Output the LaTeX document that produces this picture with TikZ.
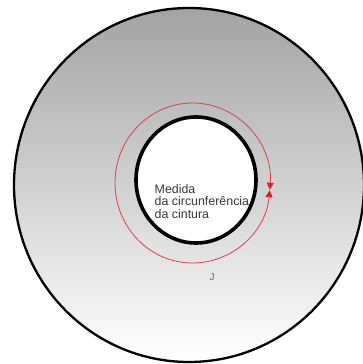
\documentclass[tikz,border=0pt]{standalone}
\usepackage{fontspec}
\setmainfont{Liberation Sans}
\usepackage{tikz}
\usetikzlibrary{arrows.meta}
\definecolor{ringred}{RGB}{222,62,74}
\definecolor{tipred}{RGB}{232,28,40}
\definecolor{labelgray}{RGB}{55,55,55}

\begin{document}
\begin{tikzpicture}[x=1pt,y=1pt]
  \useasboundingbox (0,0) rectangle (363,364);

  % Outer disc with gradient
  \shade[top color=black!36, bottom color=white]
    (189,179) ellipse[x radius=175, y radius=177];
  \draw[black, line width=2.3pt] (189,179) ellipse[x radius=175, y radius=177];

  % Waist opening
  \fill[white] (196,184) ellipse[x radius=60, y radius=63];
  \draw[black, line width=3.6pt] (196,184) ellipse[x radius=60, y radius=63];

  % Measuring loop
  \draw[ringred, line width=0.8pt,
        {Triangle[length=7pt,width=7pt,color=tipred]}-{Triangle[length=7pt,width=7pt,color=tipred]}]
    (192.5,181) ++(-4.85:77.5 and 80)
    arc[start angle=-4.85, end angle=354.85, x radius=77.5, y radius=80];

  % Labels
  \node[font=\fontsize{12.4}{12.6}\selectfont, text=labelgray, align=left,
        anchor=north west, inner sep=0pt] (waist) at (154.5,180)
    {Medida\\da circunferência\\da cintura};
  \node[font=\fontsize{10}{10}\selectfont, text=black!60, inner sep=0pt] (mark)
    at (212,87) {J};
\end{tikzpicture}
\end{document}
